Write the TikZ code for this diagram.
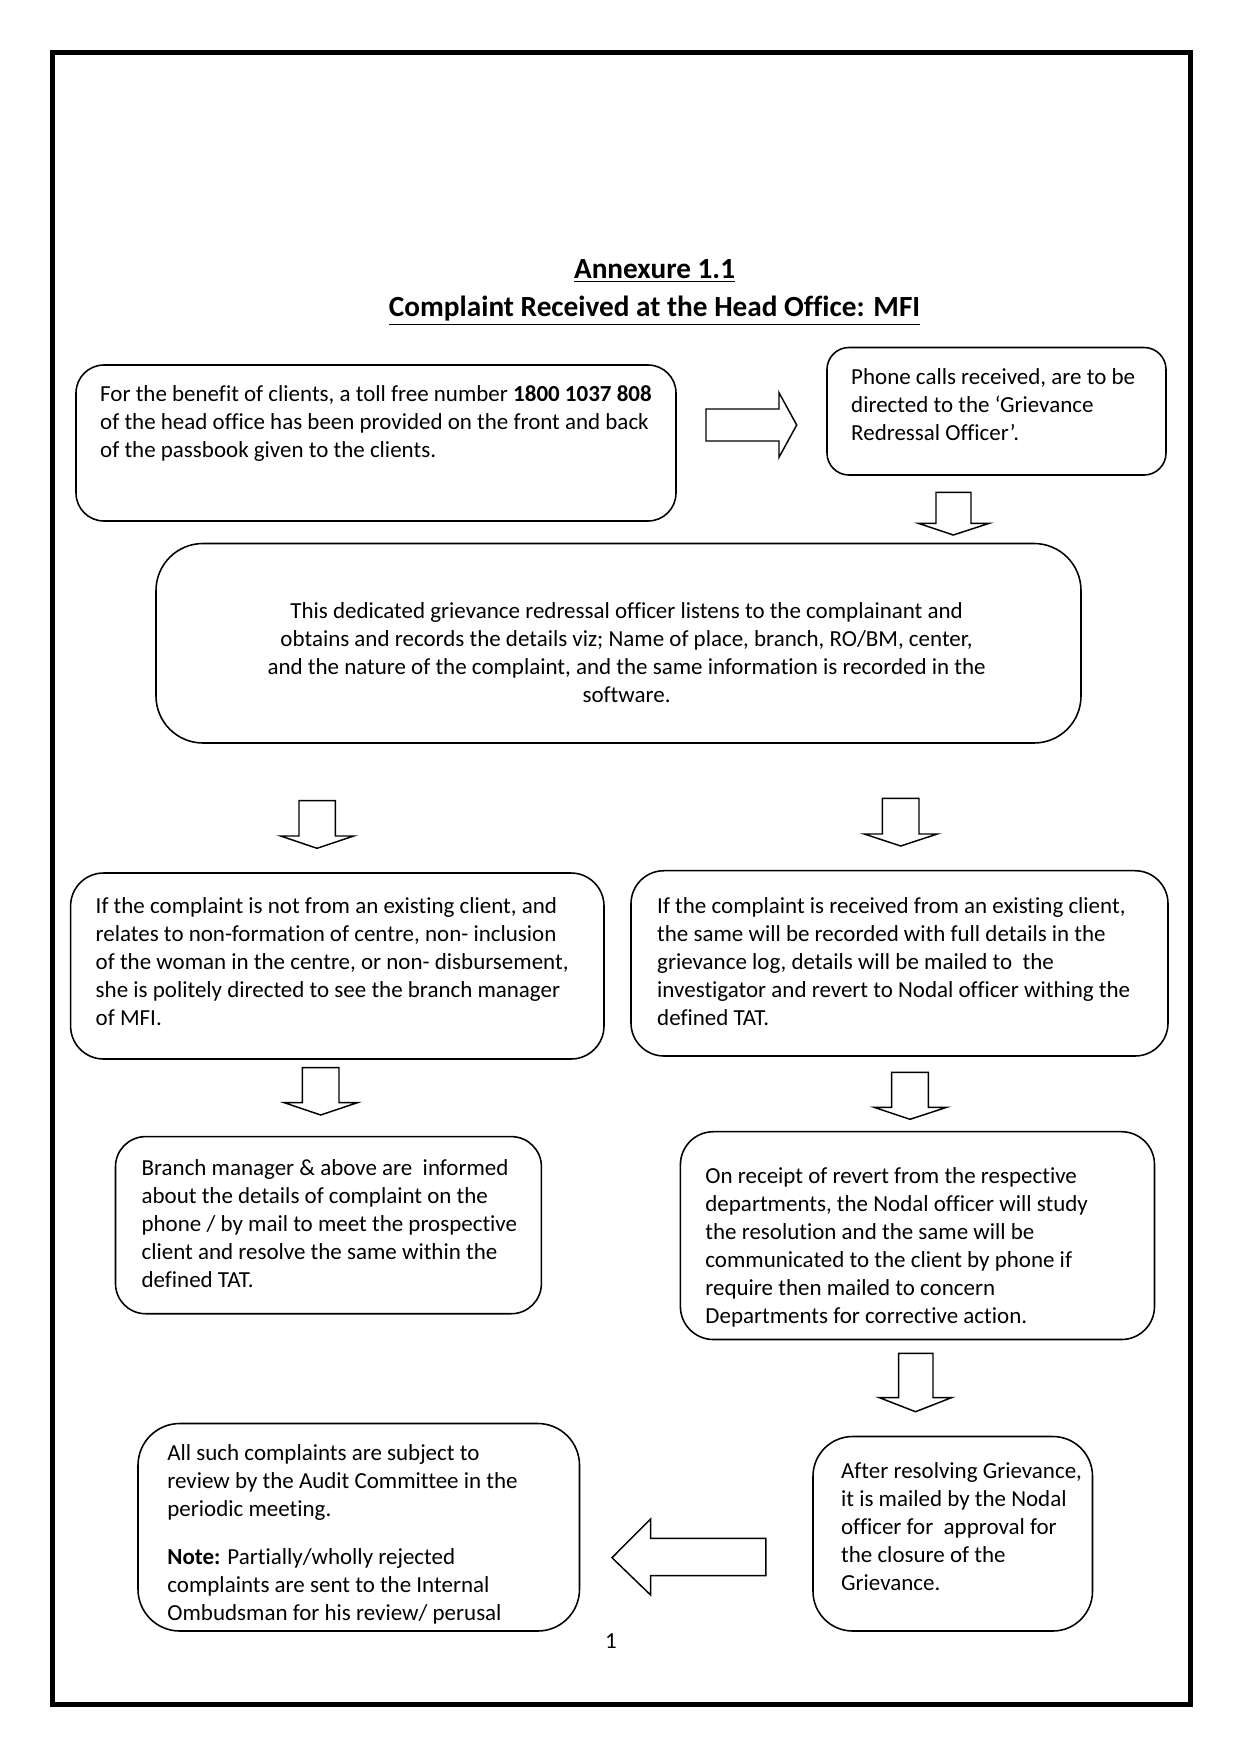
\documentclass[tikz,border=0pt]{standalone}
\usepackage{fontspec}
\setmainfont{Carlito}[Ligatures=NoCommon]
\usetikzlibrary{fit}
\begin{document}
\begin{tikzpicture}[x=0.4787pt,y=-0.4787pt,
  box/.style={draw,line width=0.75pt,inner sep=0pt},
  blockarrow/.style={draw,line width=0.7pt,line join=miter,fill=white},
  txt/.style={inner sep=0pt,anchor=west,align=left,font=\fontsize{11}{13.4}\selectfont},
  ttl/.style={inner sep=0pt,font=\fontsize{14}{16}\selectfont\bfseries}]
\useasboundingbox (0,0) rectangle (1243,1757);
\fill[white] (0,0) rectangle (1243,1757);
% frame
\draw[line width=2.4pt] (52.5,52.5) rectangle (1190.5,1704.5);
% titles
\node[ttl] (ta) at (654.6,271) {\underline{Annexure 1.1}};
\node[ttl] (tb) at (654.6,311) {\underline{Complaint Received at the Head Office: MFI}};
% boxes
\node[box,rounded corners=13.4pt,fit={(76,365) (676,521)}] (b1) {};
\node[box,rounded corners=10.5pt,fit={(827,347.5) (1166,475)}] (b2) {};
\node[box,rounded corners=22.5pt,fit={(156,543.5) (1081,743)}] (b3) {};
\node[box,rounded corners=15.8pt,fit={(70.6,873) (604,1059)}] (b4) {};
\node[box,rounded corners=15.8pt,fit={(631,870.7) (1168,1056)}] (b5) {};
\node[box,rounded corners=14.4pt,fit={(115.5,1136.6) (541.4,1313.7)}] (b6) {};
\node[box,rounded corners=15.8pt,fit={(680.4,1131.7) (1154.5,1339.5)}] (b7) {};
\node[box,rounded corners=19pt,fit={(813,1436.5) (1092.5,1631)}] (b8) {};
\node[box,rounded corners=20pt,fit={(138,1423.5) (579.5,1631)}] (b9) {};
% block arrows
\draw[blockarrow] (706,409) -- (779,409) -- (779,392.7) -- (796.7,425) -- (779,457.3) -- (779,441) -- (706,441) -- cycle;
\draw[blockarrow] (936,492.3) -- (971,492.3) -- (971,523.3) -- (989.3,523.3) -- (953.3,535) -- (918.3,523.3) -- (936,523.3) -- cycle;
\draw[blockarrow] (299,800.7) -- (335.3,800.7) -- (335.3,836) -- (353.7,836) -- (317,848.3) -- (280.7,836) -- (299,836) -- cycle;
\draw[blockarrow] (882.3,798.3) -- (919,798.3) -- (919,834) -- (937.3,834) -- (900.7,846) -- (864.3,834) -- (882.3,834) -- cycle;
\draw[blockarrow] (302.3,1067.7) -- (339,1067.7) -- (339,1102.7) -- (357.3,1102.7) -- (320.7,1115) -- (284.3,1102.7) -- (302.3,1102.7) -- cycle;
\draw[blockarrow] (891.7,1072.3) -- (928.3,1072.3) -- (928.3,1107.3) -- (946.7,1107.3) -- (910,1119.3) -- (874,1107.3) -- (891.7,1107.3) -- cycle;
\draw[blockarrow] (898.6,1353.3) -- (933,1353.3) -- (933,1397.7) -- (951.4,1397.7) -- (915.5,1411.7) -- (879.5,1397.7) -- (898.6,1397.7) -- cycle;
\draw[blockarrow] (765.8,1538.3) -- (650.6,1538.3) -- (650.6,1519) -- (612,1557.7) -- (650.6,1595) -- (650.6,1575.7) -- (765.8,1575.7) -- cycle;
% texts
\node[txt] (t1) at (99.8,423.7) {For the benefit of clients, a toll free number \textbf{1800 1037 808}\\of the head office has been provided on the front and back\\of the passbook given to the clients.};
\node[txt] (t2) at (850.8,404.6) {Phone calls received, are to be\\directed to the ‘Grievance\\Redressal Officer’.};
\node[txt,anchor=center,align=center] (t3) at (626.6,653) {This dedicated grievance redressal officer listens to the complainant and\\obtains and records the details viz; Name of place, branch, RO/BM, center,\\and the nature of the complaint, and the same information is recorded in the\\software.};
\node[txt] (t4) at (95.3,961.7) {If the complaint is not from an existing client, and\\relates to non-formation of centre, non- inclusion\\of the woman in the centre, or non- disbursement,\\she is politely directed to see the branch manager\\of MFI.};
\node[txt] (t5) at (656.8,962) {If the complaint is received from an existing client,\\the same will be recorded with full details in the\\grievance log, details will be mailed to\ \ the\\investigator and revert to Nodal officer withing the\\defined TAT.};
\node[txt] (t6) at (141.2,1224) {Branch manager \& above are\ \ informed\\about the details of complaint on the\\phone / by mail to meet the prospective\\client and resolve the same within the\\defined TAT.};
\node[txt] (t7) at (705,1247) {On receipt of revert from the respective\\departments, the Nodal officer will study\\the resolution and the same will be\\communicated to the client by phone if\\require then mailed to concern\\Departments for corrective action.};
\node[txt] (t8) at (840.7,1526.7) {After resolving Grievance,\\it is mailed by the Nodal\\officer for\ \ approval for\\the closure of the\\Grievance.};
\node[txt] (t9) at (167,1534) {All such complaints are subject to\\review by the Audit Committee in the\\periodic meeting.\\[9.6pt]\textbf{Note:} Partially/wholly rejected\\complaints are sent to the Internal\\Ombudsman for his review/ perusal};
\node[txt,anchor=center] (pg) at (611,1641) {1};
\end{tikzpicture}
\end{document}
